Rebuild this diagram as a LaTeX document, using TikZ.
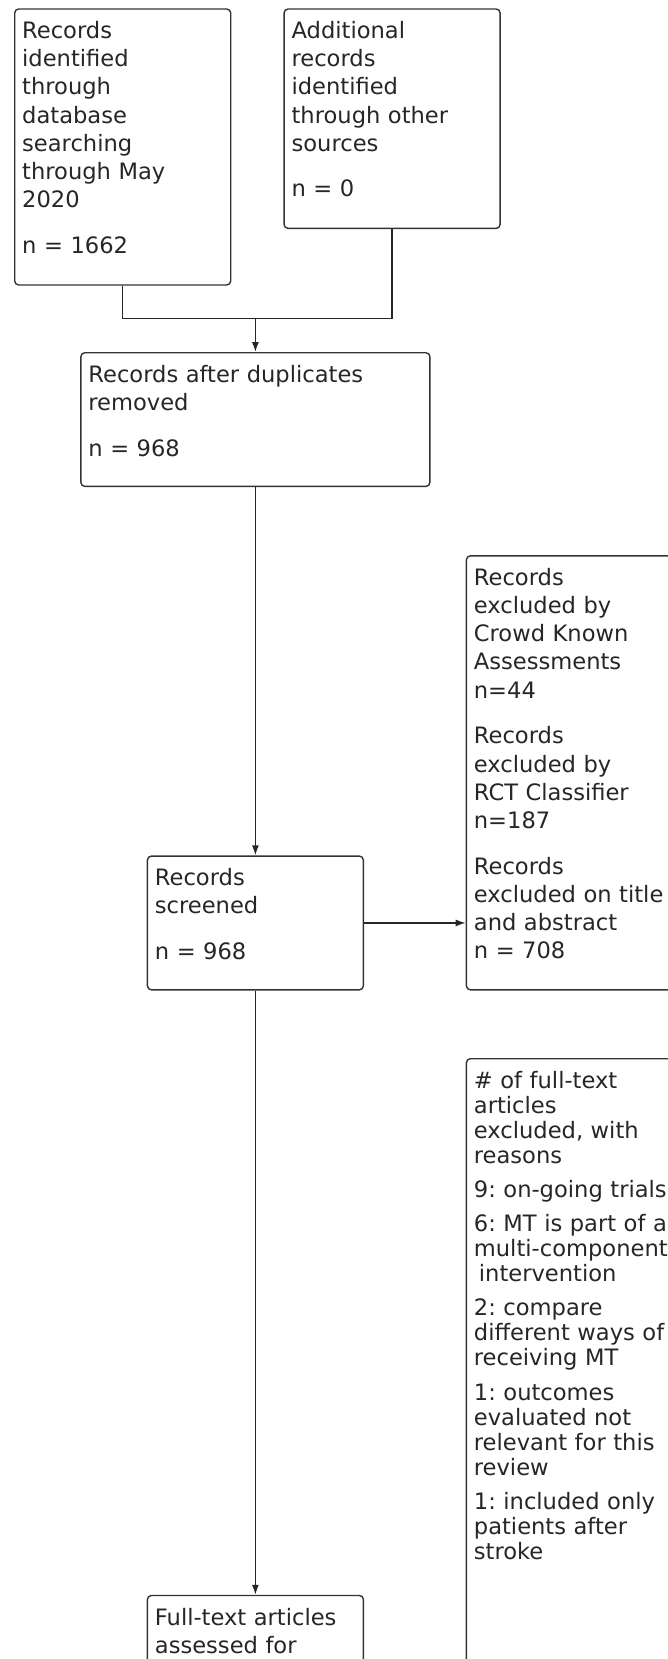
\documentclass[tikz,border=0pt]{standalone}
\usepackage{fontspec}
\setmainfont{DejaVu Sans}
\usepackage{tikz}
\usetikzlibrary{positioning,arrows.meta}
\frenchspacing
\tikzstyle{box} = [rectangle, draw=black!80, line width=1.4pt, rounded corners=4pt, align=left, text=black!85, inner xsep=7.5pt, inner ysep=12.5pt, text height=17pt, font=\fontsize{22.6}{28.2}\selectfont]
\tikzstyle{narrow} = [box, text width=201pt]
\tikzstyle{wide} = [box, text width=240pt]
\tikzstyle{link} = [line width=1.4pt, draw=black!85]
\tikzstyle{connector} = [link, -{Latex[length=10pt,width=7pt]}]

\begin{document}
\begin{tikzpicture}[x=1pt, y=1pt]
            \useasboundingbox (0,0) rectangle (668,-1659);
            \clip (0,0) rectangle (668,-1659);
            \node (ident) [narrow, text depth=234pt, anchor=north west] at (14,-8.3) {Records\\identified\\through\\database\\searching\\through May\\2020\\[17.5pt]n = 1662};
            \node (other) [narrow, text depth=177.4pt, right=52pt of ident.north east, anchor=north west] {Additional\\records\\identified\\through other\\sources\\[17.5pt]n = 0};
            \node (dedup) [box, text width=334pt, text depth=91.7pt, anchor=north] at (255.4,-352) {Records after duplicates\\removed\\[17.5pt]n = 968};
            \node (screen) [narrow, text depth=91.7pt, below=368.3pt of dedup] {Records\\screened\\[17.5pt]n = 968};
            \node (exclude) [wide, text depth=392pt, right=101.6pt of screen.south east, anchor=south west] {Records\\excluded by\\Crowd Known\\Assessments\\n=44\\[17.5pt]Records\\excluded by\\RCT Classifier\\n=187\\[17.5pt]Records\\excluded on title\\and abstract\\n = 708};
            \node (reasons) [wide, text depth=658pt, font=\fontsize{22.6}{25}\selectfont, below=67.5pt of exclude.south west, anchor=north west] {\# of full-text\\articles\\excluded, with\\reasons\\[9.2pt]9: on-going trials\\[9.2pt]6: MT is part of a\\multi-component\\\hspace*{5pt}intervention\\[9.2pt]2: compare\\different ways of\\receiving MT\\[9.2pt]1: outcomes\\evaluated not\\relevant for this\\review\\[9.2pt]1: included only\\patients after\\stroke};
            \node (fulltext) [narrow, text depth=91.7pt, below=604.3pt of screen] {Full-text articles\\assessed for};
            \coordinate [above=33.5pt of dedup.north] (join);
            \draw [link] (ident.south) |- (join) -| (other.south);
            \draw [connector] (join) -- (dedup.north);
            \draw [connector] (dedup) -- (screen);
            \draw [connector] (screen.east) -- (screen.east -| exclude.west);
            \draw [connector] (screen) -- (fulltext);
\end{tikzpicture}
\end{document}
